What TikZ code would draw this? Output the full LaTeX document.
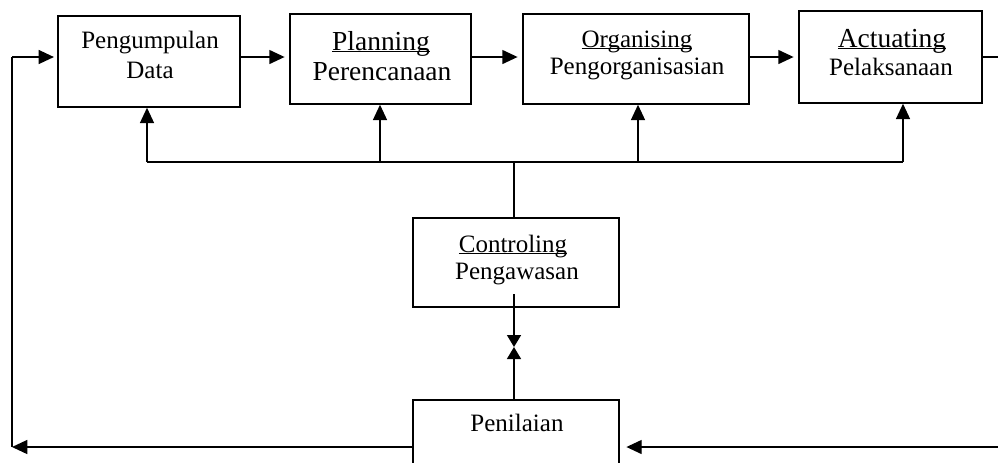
\documentclass[tikz,border=0pt]{standalone}
\usepackage{fontspec}
\setmainfont{Liberation Serif}
\usetikzlibrary{arrows.meta}
\newcommand\myul[1]{\setbox0\hbox{#1}\rlap{\rule[-1.6pt]{\wd0}{0.9pt}}\box0}
\tikzset{
  box/.style={draw, line width=1.1pt, inner sep=0pt},
  txt/.style={anchor=base, inner sep=0pt, font=\fontsize{18.75}{22}\selectfont},
  bigtxt/.style={anchor=base, inner sep=0pt, font=\fontsize{20.6}{24}\selectfont},
  conn/.style={line width=1.1pt},
  arr/.style={line width=1.1pt, -{Triangle[length=11.5pt,width=10.5pt]}},
  sarr/.style={line width=1.1pt, -{Triangle[length=9pt,width=10.5pt]}}
}
\begin{document}
\begin{tikzpicture}[x=0.75pt,y=-0.75pt]
\clip (0,0) rectangle (998,462);
% boxes
\node[box, minimum width=136.5pt, minimum height=68.25pt] (b1) at (149,61.5) {};
\node[box, minimum width=135.75pt, minimum height=67.5pt] (b2) at (380.5,59) {};
\node[box, minimum width=169.5pt, minimum height=67.5pt] (b3) at (636,59) {};
\node[box, minimum width=137.25pt, minimum height=69pt] (b4) at (890.5,57) {};
\node[box, minimum width=154.5pt, minimum height=66.75pt] (ctl) at (516,262.5) {};
\node[box, minimum width=154.5pt, minimum height=60pt] (pen) at (516,440) {};
% texts
\node[txt] (t1a) at (150,48) {Pengumpulan};
\node[txt] (t1b) at (150,78) {Data};
\node[bigtxt] (t2a) at (381,50) {\myul{Planning}};
\node[bigtxt] (t2b) at (382,80) {Perencanaan};
\node[txt] (t3a) at (637,47) {\myul{Organising}};
\node[txt] (t3b) at (637,74) {Pengorganisasian};
\node[bigtxt] (t4a) at (892,47) {\myul{Actuating}};
\node[txt] (t4b) at (891,75) {Pelaksanaan};
\node[txt] (t5a) at (513,252) {\myul{Controling}};
\node[txt] (t5b) at (517,279) {Pengawasan};
\node[txt] (t6) at (517,431) {Penilaian};
% coordinates
\coordinate (lt) at (12,57);
\coordinate (lb) at (12,447);
\coordinate (rt) at (1000,57);
\coordinate (rb) at (1000,447);
\coordinate (busL) at (147,162);
\coordinate (busR) at (903,162);
\coordinate (busM) at (514,162);
\coordinate (c2) at (380,162);
\coordinate (c3) at (638,162);
\coordinate (cs) at (514,294);
\coordinate (mid) at (514,347);
% top chain
\draw[arr, shorten >=2.5pt] (lt) -- (b1.west |- lt);
\draw[arr, shorten >=3.5pt] (b1.east |- lt) -- (b2.west |- lt);
\draw[arr, shorten >=3.5pt] (b2.east |- lt) -- (b3.west |- lt);
\draw[arr, shorten >=3.5pt] (b3.east |- lt) -- (b4.west |- lt);
\draw[conn] (b4.east |- rt) -- (rt);
% bus
\draw[conn] (busL) -- (busR);
\draw[arr] (busL) -- (b1.south -| busL);
\draw[arr] (c2) -- (b2.south -| c2);
\draw[arr] (c3) -- (b3.south -| c3);
\draw[arr] (busR) -- (b4.south -| busR);
\draw[conn] (busM) -- (ctl.north -| busM);
% controling - penilaian
\draw[sarr] (cs) -- (mid);
\draw[sarr] (pen.north -| mid) -- (mid);
% feedback
\draw[arr] (pen.west |- lb) -- (lb);
\draw[conn] (lb) -- (lt);
\draw[arr, shorten >=5pt] (rb) -- (pen.east |- rb);
\end{tikzpicture}
\end{document}
